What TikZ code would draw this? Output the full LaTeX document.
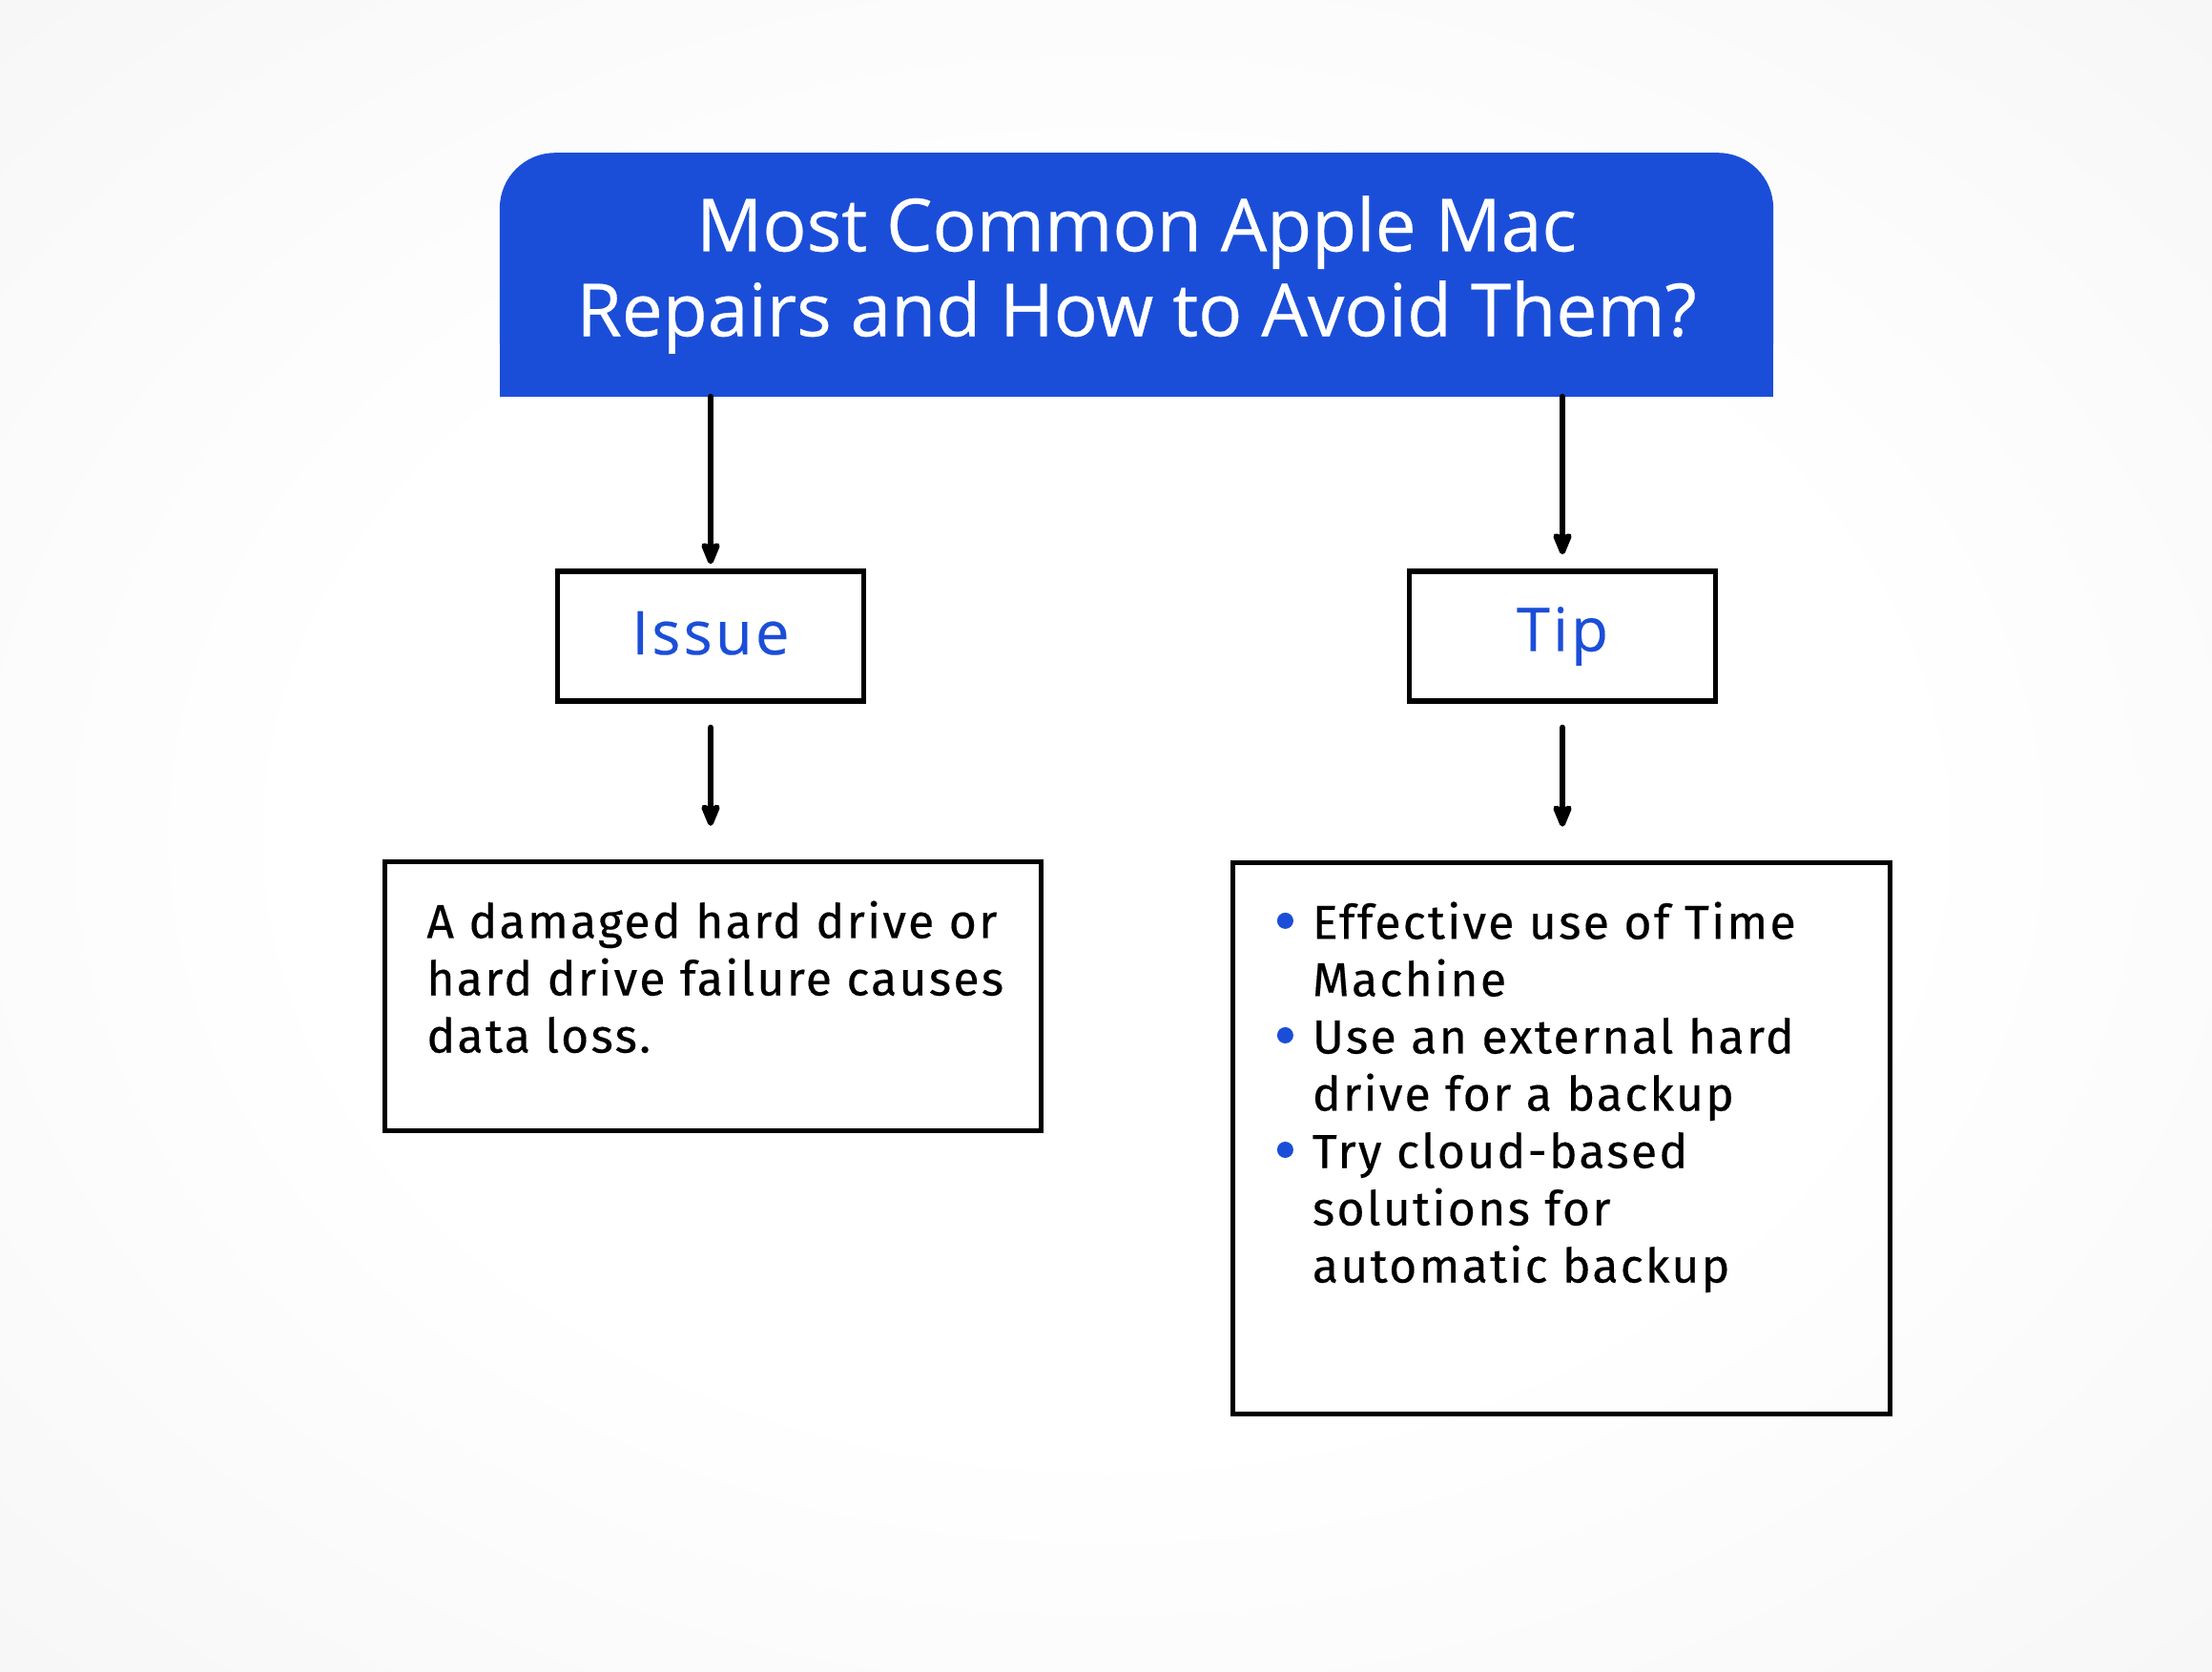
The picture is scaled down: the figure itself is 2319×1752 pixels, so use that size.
\documentclass[tikz,border=0pt]{standalone}
\usepackage{fontspec}
\setmainfont{Fira Sans}[LetterSpace=4.5, FakeBold=0.3]
\newfontfamily\headfont{Open Sans}[FakeBold=0.4]
\newfontfamily\labelfont{Open Sans}[LetterSpace=5, FakeBold=0.3]
\usetikzlibrary{positioning, arrows.meta, calc, backgrounds}
\definecolor{mcblue}{HTML}{1B4ED8}
\definecolor{mcbg}{HTML}{F0F0F0}
\pgfdeclareradialshading{mcglow}{\pgfpoint{0bp}{0bp}}{color(0bp)=(white); color(18bp)=(white); color(50bp)=(mcbg); color(75bp)=(mcbg)}
\newcommand{\mcdot}{\makebox[0.37cm][l]{\tikz[baseline=-0.19cm]\fill[mcblue] (0,0) circle (0.085cm);}}

\begin{document}
\begin{tikzpicture}[x=0.01cm, y=-0.01cm,
    titlebox/.style={text=white, align=center, minimum width=13.33cm, minimum height=2.54cm, font=\headfont\fontsize{21.8}{25.3}\selectfont},
    headbox/.style={draw=black, line width=1.5pt, text=mcblue, minimum width=3.21cm, minimum height=1.36cm, font=\labelfont\fontsize{18}{20}\selectfont},
    card/.style={draw=black, line width=1.5pt, minimum width=6.88cm},
    body/.style={inner sep=0pt, align=left, anchor=north west, font=\fontsize{14.2}{17.07}\selectfont},
    flow/.style={-{Stealth[length=0.3cm, width=0.24cm, inset=0.06cm, round]}, line width=1.7pt, line cap=round}]
  \useasboundingbox (0,0) rectangle (2319,1752);
  \begin{scope}[on background layer]
    \shade[shading=mcglow] (0,0) rectangle (2319,1752);
  \end{scope}

  % heading
  \node[titlebox] (title) at (1191.5,288) {Most Common Apple Mac\\Repairs and How to Avoid Them?};
  \begin{scope}[on background layer]
    \fill[mcblue, rounded corners=0.58cm] (title.south west) rectangle (title.north east);
    \fill[mcblue] (title.south west) rectangle (title.east);
  \end{scope}

  % two columns
  \node[headbox] (issue) at (745,667) {\raisebox{0.07cm}{Issue}};
  \node[headbox] (tip) at (1638,667) {\raisebox{0.07cm}{Tip}};
  \node[card, minimum height=2.82cm] (issuecard) at (747.5,1044.5) {};
  \node[card, minimum height=5.78cm] (tipcard) at (1637,1193.5) {};

  \draw[flow, shorten >=0.05cm] (title.south -| issue.north) -- (issue.north);
  \draw[flow, shorten >=0.15cm] (title.south -| tip.north) -- (tip.north);
  \draw[flow, shorten <=0.25cm, shorten >=0.35cm] (issue.south) -- (issue.south |- issuecard.north);
  \draw[flow, shorten <=0.25cm, shorten >=0.35cm] (tip.south) -- (tip.south |- tipcard.north);

  \node[body, below right=0.43cm and 0.46cm of issuecard.north west] (issuetext)
    {A damaged hard drive or\\hard drive failure causes\\data loss.};
  \node[body, below right=0.43cm and 0.48cm of tipcard.north west] (tiptext)
    {\mcdot Effective use of Time\\\hspace*{0.37cm}Machine\\
     \mcdot Use an external hard\\\hspace*{0.37cm}drive for a backup\\
     \mcdot Try cloud-based\\\hspace*{0.37cm}solutions for\\\hspace*{0.37cm}automatic backup};
\end{tikzpicture}
\end{document}
